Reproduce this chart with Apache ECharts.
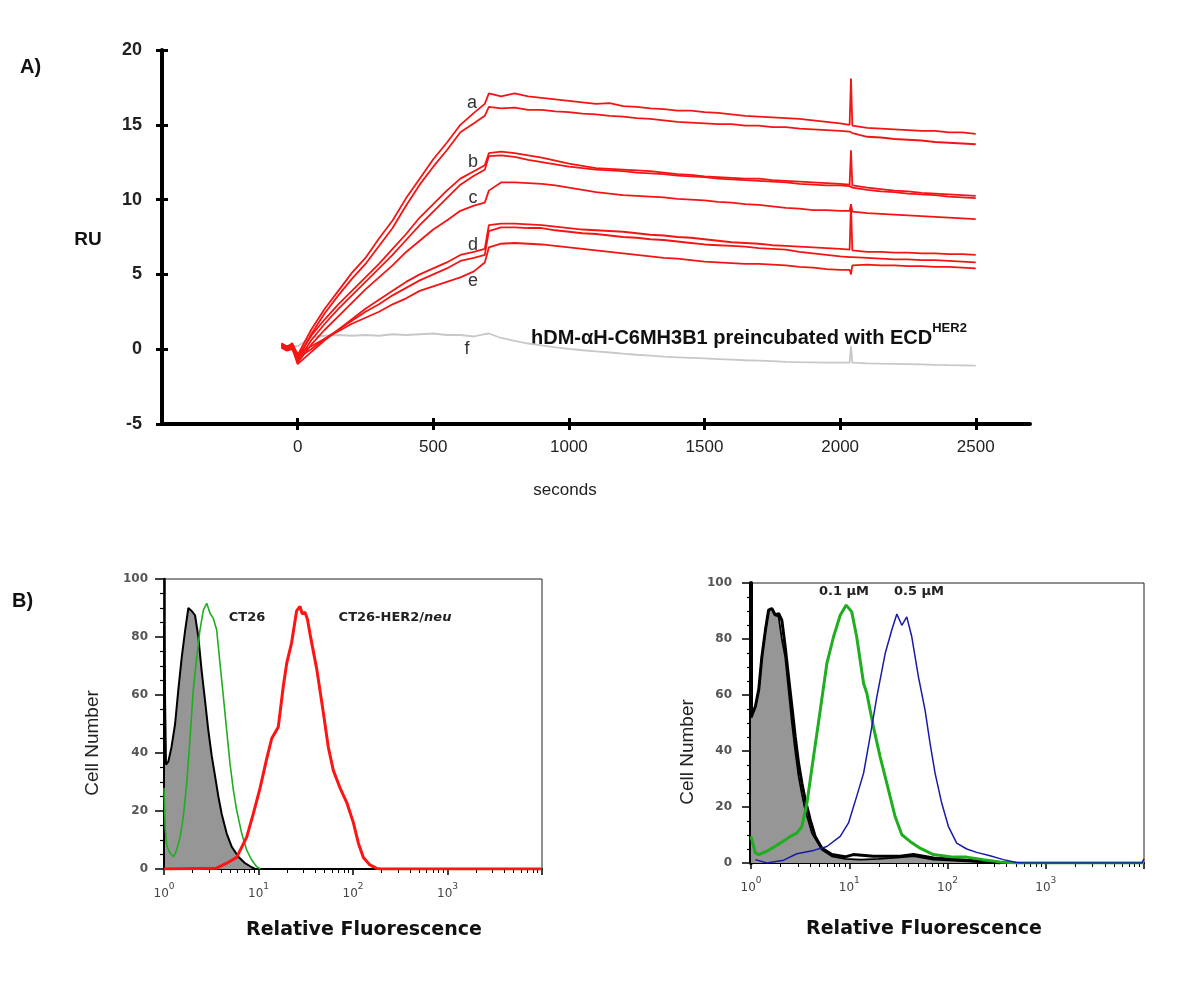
<!DOCTYPE html>
<html><head><meta charset="utf-8">
<script src="https://cdn.jsdelivr.net/npm/echarts@6/dist/echarts.min.js"></script>
<style>html,body{margin:0;padding:0;background:#fff}#c{width:1200px;height:981px}</style>
</head><body><div id="c"></div>
<script>
// ---------- Panel A: sensorgram (time in seconds, RU) ----------
const T = [-60,-40,-20,0,50,100,150,200,250,300,350,400,450,500,550,600,650,690,705,750,800,850,900,950,1000,1050,1100,1150,1200,1250,1300,1350,1400,1450,1500,1550,1600,1650,1700,1750,1800,1850,1900,1950,2000,2035,2040,2045,2050,2100,2150,2200,2250,2300,2350,2400,2450,2500];
const a1 = [0.3,0.1,0.4,-0.4,1.3,2.7,3.9,5.1,6.1,7.4,8.6,10.1,11.4,12.7,13.8,15.0,15.8,16.4,17.1,16.9,17.1,16.9,16.8,16.7,16.6,16.5,16.4,16.45,16.25,16.2,16.1,16.05,15.95,15.95,15.85,15.8,15.7,15.6,15.55,15.5,15.45,15.4,15.3,15.2,15.1,15.0,18.1,14.95,14.9,14.8,14.75,14.7,14.65,14.6,14.6,14.5,14.5,14.4];
const a2 = [0.2,0.0,0.2,-0.7,1.0,2.4,3.6,4.7,5.7,6.9,8.1,9.6,11.0,12.2,13.3,14.5,15.1,15.6,16.2,16.1,16.15,16.0,16.0,15.9,15.85,15.75,15.7,15.6,15.55,15.45,15.4,15.3,15.2,15.15,15.1,15.05,15.05,14.95,14.95,14.85,14.85,14.75,14.7,14.65,14.6,14.55,14.55,14.45,14.35,14.2,14.15,14.05,14.0,13.95,13.85,13.8,13.75,13.7];
const b1 = [0.2,0.0,0.1,-0.5,0.9,2.0,3.0,3.9,4.8,5.7,6.7,7.7,8.8,9.7,10.6,11.4,11.9,12.3,13.1,13.2,13.1,12.95,12.8,12.6,12.4,12.25,12.1,12.05,12.0,11.95,11.9,11.8,11.7,11.65,11.55,11.5,11.45,11.4,11.4,11.3,11.25,11.2,11.15,11.1,11.05,11.0,13.3,10.95,10.85,10.8,10.7,10.6,10.55,10.45,10.4,10.35,10.3,10.25];
const b2 = [0.1,-0.1,0.0,-0.8,0.6,1.7,2.7,3.6,4.5,5.4,6.3,7.3,8.3,9.2,10.1,11.0,11.6,12.0,12.9,12.95,12.85,12.65,12.5,12.35,12.2,12.1,12.0,11.95,11.9,11.8,11.75,11.7,11.6,11.55,11.5,11.4,11.35,11.3,11.25,11.2,11.15,11.05,11.0,10.95,10.95,10.9,10.9,10.8,10.7,10.65,10.55,10.5,10.4,10.35,10.3,10.2,10.15,10.1];
const c1 = [0.3,0.1,0.2,-0.9,0.3,1.3,2.2,3.1,4.0,4.8,5.6,6.5,7.25,8.0,8.6,9.25,9.6,9.8,10.6,11.15,11.15,11.1,11.05,10.95,10.8,10.65,10.5,10.4,10.3,10.25,10.2,10.15,10.05,10.0,9.95,9.85,9.8,9.7,9.65,9.55,9.45,9.4,9.3,9.3,9.25,9.25,9.7,9.2,9.15,9.1,9.05,9.0,8.95,8.9,8.85,8.8,8.75,8.7];
const d1 = [0.2,0.0,0.1,-1.0,-0.2,0.6,1.3,2.0,2.7,3.3,3.9,4.5,5.0,5.4,5.8,6.3,6.5,6.7,8.3,8.4,8.4,8.35,8.3,8.2,8.1,8.0,7.95,7.9,7.85,7.75,7.65,7.6,7.5,7.45,7.35,7.25,7.15,7.1,7.05,6.95,6.9,6.85,6.8,6.75,6.7,6.65,9.7,6.6,6.55,6.5,6.5,6.45,6.45,6.4,6.4,6.35,6.35,6.3];
const d2 = [0.3,0.1,0.2,-0.6,0.0,0.7,1.3,1.9,2.5,3.0,3.6,4.1,4.6,5.0,5.4,5.9,6.1,6.3,7.9,8.15,8.15,8.1,8.1,7.95,7.85,7.75,7.7,7.6,7.5,7.45,7.35,7.3,7.2,7.1,7.0,6.95,6.9,6.85,6.75,6.7,6.65,6.5,6.4,6.3,6.2,6.15,6.15,6.15,6.15,6.1,6.05,6.0,6.0,5.95,5.95,5.9,5.85,5.8];
const e1 = [0.4,0.2,0.3,-0.3,0.2,0.7,1.2,1.7,2.1,2.5,3.0,3.4,3.9,4.2,4.5,4.8,5.2,5.8,6.8,7.05,7.1,7.05,7.0,6.9,6.8,6.7,6.6,6.5,6.4,6.3,6.2,6.1,6.05,5.95,5.85,5.8,5.75,5.7,5.7,5.65,5.6,5.5,5.45,5.35,5.3,5.3,5.0,5.6,5.65,5.65,5.6,5.6,5.55,5.55,5.5,5.5,5.45,5.4];
const f1 = [0.3,0.2,0.2,0.2,0.8,0.9,0.95,0.9,0.95,0.9,1.0,0.95,1.0,1.05,0.95,0.95,0.85,1.0,1.05,0.75,0.55,0.38,0.25,0.12,0.02,-0.07,-0.15,-0.22,-0.3,-0.37,-0.43,-0.5,-0.54,-0.58,-0.62,-0.66,-0.7,-0.74,-0.77,-0.8,-0.85,-0.87,-0.88,-0.9,-0.9,-0.9,0.2,-0.9,-0.92,-0.95,-0.97,-0.98,-1.0,-1.02,-1.05,-1.07,-1.08,-1.1];
const secTicks = [0,500,1000,1500,2000,2500];
const ruTicks = [-5,0,5,10,15,20];

// ---------- Panel B: flow cytometry histograms [fluorescence, cell number] ----------
const ctrlL  = [[1,0],[1,84],[1.05,36],[1.11,37],[1.2,42],[1.31,50],[1.42,62],[1.54,73],[1.67,82],[1.81,90],[1.96,89],[2.13,87.5],[2.31,80],[2.5,68.5],[2.72,58],[2.94,48],[3.2,39],[3.47,32],[3.76,25],[4.08,19],[4.6,12.3],[5.2,7.7],[6.12,4.2],[7.2,2],[8.47,0.6],[9.2,0]];
const ct26L  = [[1,28],[1.03,14],[1.07,8],[1.16,5.5],[1.26,4.2],[1.36,6.5],[1.48,11],[1.6,18],[1.74,29.5],[1.88,44.5],[2.04,61.7],[2.22,73],[2.4,82.4],[2.61,89.3],[2.83,91.6],[3.07,88.2],[3.33,86.4],[3.61,82.4],[3.91,71],[4.25,59.4],[4.6,48],[4.99,36.4],[5.42,27.2],[5.87,20.3],[6.64,12.3],[7.5,6.5],[8.47,3.1],[9.57,0.8],[10.5,0]];
const her2L  = [[1,0],[3.6,0.3],[4.6,2],[5.87,4],[7.5,11],[8.8,19],[10.4,28],[12.2,38],[13.8,45],[16.2,49],[18.3,63],[19.9,71],[22.4,78],[25.3,89],[27.5,90.5],[29,88],[31,88.5],[33,86],[35.1,81],[41.3,69],[48.5,54],[54.8,42],[61.9,34],[72.8,28],[85.7,23],[100.9,16],[113.8,9],[128.6,4],[151,1.4],[178,0.2],[200,0],[10000,0]];
const ctrlR  = [[1,52],[1.11,56],[1.2,62],[1.29,73.6],[1.4,83],[1.51,90.3],[1.63,90.9],[1.77,88.5],[1.91,88],[2.06,80],[2.23,73.6],[2.41,62],[2.61,50],[2.82,40],[3.05,31],[3.3,24.5],[3.56,19],[4.17,10.7],[5.27,4.7],[6.66,2.4],[9.1,1.5],[13,1.2],[20,1.5],[33,2],[45,2.5],[72,1.2],[130,0.8],[230,0.3],[300,0]];
const ctrlR2 = [[1,52],[1.11,56],[1.2,62],[1.29,73.6],[1.4,83],[1.51,90.3],[1.63,90.9],[1.77,88.5],[1.91,89.1],[2.06,86.7],[2.23,77.2],[2.41,66.5],[2.61,55.8],[2.82,45.1],[3.05,35.6],[3.3,28.5],[3.56,22.6],[4.01,15.4],[4.5,9.5],[5.27,5.3],[6.66,3.0],[9.08,2.2],[11,3],[17.6,2.4],[33,2.4],[45,3],[72,1.8],[134,1.2],[231,0.5],[342,0]];
const conc01 = [[1,9.5],[1.107,3.6],[1.197,3.0],[1.455,4.2],[1.987,7.1],[2.51,9.5],[2.93,10.7],[3.3,13.1],[3.71,21.4],[4.33,38],[5.07,54.6],[5.92,71.3],[6.92,80.8],[8.09,88.5],[9.31,92.1],[10.6,89.7],[11.9,80.8],[14.0,64.1],[15.1,60.6],[17.6,48.7],[20.6,38],[24.1,28.5],[29.3,16.6],[34.3,10.1],[41.6,7.7],[52.6,5.3],[71.8,3.0],[115,2.1],[157,2.1],[231,1.2],[342,0.4],[505,0],[10000,0]];
const conc05 = [[1.107,1.2],[1.455,0],[2.15,1.0],[2.93,3.3],[4.33,4.5],[5.92,5.9],[8.09,9.5],[9.83,14.3],[11.9,23.8],[14.0,32.1],[16.3,45.1],[19.1,59.4],[23.2,74.8],[27.1,83.2],[30.5,88.9],[34.3,84.9],[38.5,87.9],[43.3,80.8],[50.6,66.5],[59.1,54.6],[66.4,42.8],[74.7,32.1],[87.3,21.4],[102,13.1],[124,7.1],[157,5.0],[198,3.8],[271,2.6],[370,1.2],[505,0.2],[600,0],[9500,0],[10000,1.5]];
const cellTicks = [0,20,40,60,80,100];

// minor log ticks (2..9 within each decade), expressed in decades
const minorLog = [];
for (let d = 0; d < 4; d++) for (let k = 2; k <= 9; k++) minorLog.push(d + Math.log10(k));

const RED = '#f51414';
const sans = '"Liberation Sans", Arial, sans-serif';
const dj = '"DejaVu Sans", sans-serif';

function topLine(arr, color, w, z) {
  return { type:'line', xAxisIndex:0, yAxisIndex:0, data:T.map((t,i)=>[t,arr[i]]), symbol:'none', showSymbol:false,
    lineStyle:{color:color, width:w}, z:z, silent:true };
}

const logLabel = {
  margin: 13,
  formatter: v => v >= 10000 ? '' : '{b|10}{s|' + Math.round(Math.log10(v)) + '}',
  rich: {
    b: { fontSize:12, fontFamily:dj, color:'#444', lineHeight:18, verticalAlign:'bottom' },
    s: { fontSize:9, fontFamily:dj, color:'#444', lineHeight:10, verticalAlign:'top' }
  }
};
function logAxis(grid) {
  return { type:'log', logBase:10, gridIndex:grid, min:1, max:10000, position:'bottom',
    axisLine:{onZero:false, lineStyle:{color:'#000', width:2}},
    axisTick:{length:6, lineStyle:{color:'#000', width:1.5}},
    axisLabel:logLabel, splitLine:{show:false} };
}
function minorAxis(grid) {
  return { type:'value', gridIndex:grid, min:0, max:4, position:'bottom',
    axisLine:{show:false, onZero:false}, axisTick:{customValues:minorLog, length:4, lineStyle:{color:'#000', width:1}},
    axisLabel:{show:false}, splitLine:{show:false} };
}
function cellAxis(grid, lw, margin) {
  return { type:'value', gridIndex:grid, min:0, max:100, interval:20, position:'left',
    axisLine:{onZero:false, lineStyle:{color:'#000', width:lw}},
    axisTick:{length:9, lineStyle:{color:'#000', width:1.5}},
    minorTick:{show:true, splitNumber:4, length:4, lineStyle:{color:'#000', width:1.2}},
    axisLabel:{margin:margin, fontSize:12, fontFamily:dj, fontWeight:'bold', color:'#555'},
    splitLine:{show:false}, minorSplitLine:{show:false} };
}

const option = {
  animation:false,
  backgroundColor:'#fff',
  grid:[
    {left:162, top:50, width:868, height:374, outerBoundsMode:'none'},
    {left:164, top:579, width:378, height:290, show:true, borderColor:'#222', borderWidth:1, backgroundColor:'transparent', outerBoundsMode:'none'},
    {left:751, top:583, width:393, height:280, show:true, borderColor:'#222', borderWidth:1, backgroundColor:'transparent', outerBoundsMode:'none'}
  ],
  xAxis:[
    { type:'value', gridIndex:0, min:-500, max:2700, position:'bottom',
      axisLine:{onZero:false, lineStyle:{color:'#000', width:4}},
      axisTick:{customValues:secTicks, length:6, lineStyle:{color:'#000', width:3}},
      axisLabel:{customValues:secTicks, margin:15, fontSize:17, fontFamily:sans, color:'#222', formatter: v => String(v)},
      splitLine:{show:false} },
    { type:'value', gridIndex:0, min:-500, max:2700, position:'bottom',
      axisLine:{show:false, onZero:false},
      axisTick:{customValues:secTicks, inside:true, length:6, lineStyle:{color:'#000', width:3}},
      axisLabel:{show:false}, splitLine:{show:false} },
    logAxis(1), minorAxis(1), logAxis(2), minorAxis(2)
  ],
  yAxis:[
    { type:'value', gridIndex:0, min:-5, max:20, interval:5, position:'left',
      axisLine:{onZero:false, lineStyle:{color:'#000', width:4}},
      axisTick:{length:6, lineStyle:{color:'#000', width:3}},
      axisLabel:{margin:20, fontSize:18, fontWeight:'bold', fontFamily:sans, color:'#222'},
      splitLine:{show:false} },
    { type:'value', gridIndex:0, min:-5, max:20, interval:5, position:'left',
      axisLine:{show:false, onZero:false},
      axisTick:{inside:true, length:6, lineStyle:{color:'#000', width:3}},
      axisLabel:{show:false}, splitLine:{show:false} },
    cellAxis(1, 2.5, 16), cellAxis(2, 4, 19)
  ],
  series:[
    topLine(f1, '#c8c8c8', 1.8, 2),
    topLine(a1, RED, 1.8, 3), topLine(a2, RED, 1.8, 3),
    topLine(b1, RED, 1.8, 3), topLine(b2, RED, 1.8, 3),
    topLine(c1, RED, 1.8, 3),
    topLine(d1, RED, 1.8, 3), topLine(d2, RED, 1.8, 3), topLine(e1, RED, 1.8, 3),

    { type:'line', xAxisIndex:2, yAxisIndex:2, data:ctrlL, symbol:'none', lineStyle:{color:'#000', width:2},
      areaStyle:{color:'#969696', opacity:1}, z:2, silent:true },
    { type:'line', xAxisIndex:2, yAxisIndex:2, data:ct26L, symbol:'none', lineStyle:{color:'#1fae1f', width:1.6}, z:3, silent:true },
    { type:'line', xAxisIndex:2, yAxisIndex:2, data:her2L, symbol:'none', lineStyle:{color:'#ff1414', width:3}, z:4, silent:true },

    { type:'line', xAxisIndex:4, yAxisIndex:3, data:ctrlR, symbol:'none', lineStyle:{color:'#000', width:1.8},
      areaStyle:{color:'#969696', opacity:1}, z:2, silent:true },
    { type:'line', xAxisIndex:4, yAxisIndex:3, data:ctrlR2, symbol:'none', lineStyle:{color:'#000', width:3}, z:3, silent:true },
    { type:'line', xAxisIndex:4, yAxisIndex:3, data:conc01, symbol:'none', lineStyle:{color:'#1fae1f', width:3}, z:4, silent:true },
    { type:'line', xAxisIndex:4, yAxisIndex:3, data:conc05, symbol:'none', lineStyle:{color:'#1a1aa8', width:1.5}, z:5, silent:true }
  ],
  graphic:[
    {type:'text', x:20, y:67, style:{text:'A)', font:'bold 20px '+sans, fill:'#111', align:'left', verticalAlign:'middle'}},
    {type:'text', x:88, y:240, style:{text:'RU', font:'bold 19px '+sans, fill:'#111', align:'center', verticalAlign:'middle'}},
    {type:'text', x:565, y:490, style:{text:'seconds', font:'17px '+sans, fill:'#222', align:'center', verticalAlign:'middle'}},
    {type:'text', x:472, y:103, style:{text:'a', font:'18px '+sans, fill:'#333', align:'center', verticalAlign:'middle'}},
    {type:'text', x:473, y:162, style:{text:'b', font:'18px '+sans, fill:'#333', align:'center', verticalAlign:'middle'}},
    {type:'text', x:473, y:198, style:{text:'c', font:'18px '+sans, fill:'#333', align:'center', verticalAlign:'middle'}},
    {type:'text', x:473, y:245, style:{text:'d', font:'18px '+sans, fill:'#333', align:'center', verticalAlign:'middle'}},
    {type:'text', x:473, y:281, style:{text:'e', font:'18px '+sans, fill:'#333', align:'center', verticalAlign:'middle'}},
    {type:'text', x:467, y:349, style:{text:'f', font:'18px '+sans, fill:'#333', align:'center', verticalAlign:'middle'}},
    {type:'text', x:531, y:335, style:{text:'{m|hDM-αH-C6MH3B1 preincubated with ECD}{s|HER2}', align:'left', verticalAlign:'middle',
      rich:{ m:{font:'bold 20px '+sans, fill:'#111', lineHeight:26, verticalAlign:'bottom'},
             s:{font:'bold 13px '+sans, fill:'#111', lineHeight:13, verticalAlign:'top'} }}},

    {type:'text', x:12, y:601, style:{text:'B)', font:'bold 20px '+sans, fill:'#111', align:'left', verticalAlign:'middle'}},
    {type:'text', x:93, y:743, rotation:Math.PI/2, style:{text:'Cell Number', font:'19px '+sans, fill:'#222', align:'center', verticalAlign:'middle'}},
    {type:'text', x:688, y:752, rotation:Math.PI/2, style:{text:'Cell Number', font:'19px '+sans, fill:'#222', align:'center', verticalAlign:'middle'}},
    {type:'text', x:364, y:930, style:{text:'Relative Fluorescence', font:'bold 19px '+dj, fill:'#111', align:'center', verticalAlign:'middle'}},
    {type:'text', x:924, y:929, style:{text:'Relative Fluorescence', font:'bold 19px '+dj, fill:'#111', align:'center', verticalAlign:'middle'}},
    {type:'text', x:247, y:618, style:{text:'CT26', font:'bold 13px '+dj, fill:'#222', align:'center', verticalAlign:'middle'}},
    {type:'text', x:395, y:618, style:{text:'{n|CT26-HER2/}{i|neu}', align:'center', verticalAlign:'middle',
      rich:{ n:{font:'bold 13px '+dj, fill:'#222'}, i:{font:'italic bold 13px '+dj, fill:'#222'} }}},
    {type:'text', x:844, y:592, style:{text:'0.1 µM', font:'bold 13px '+dj, fill:'#222', align:'center', verticalAlign:'middle'}},
    {type:'text', x:919, y:592, style:{text:'0.5 µM', font:'bold 13px '+dj, fill:'#222', align:'center', verticalAlign:'middle'}}
  ]
};
const chart = echarts.init(document.getElementById('c'));
chart.setOption(option);
</script>
</body></html>
